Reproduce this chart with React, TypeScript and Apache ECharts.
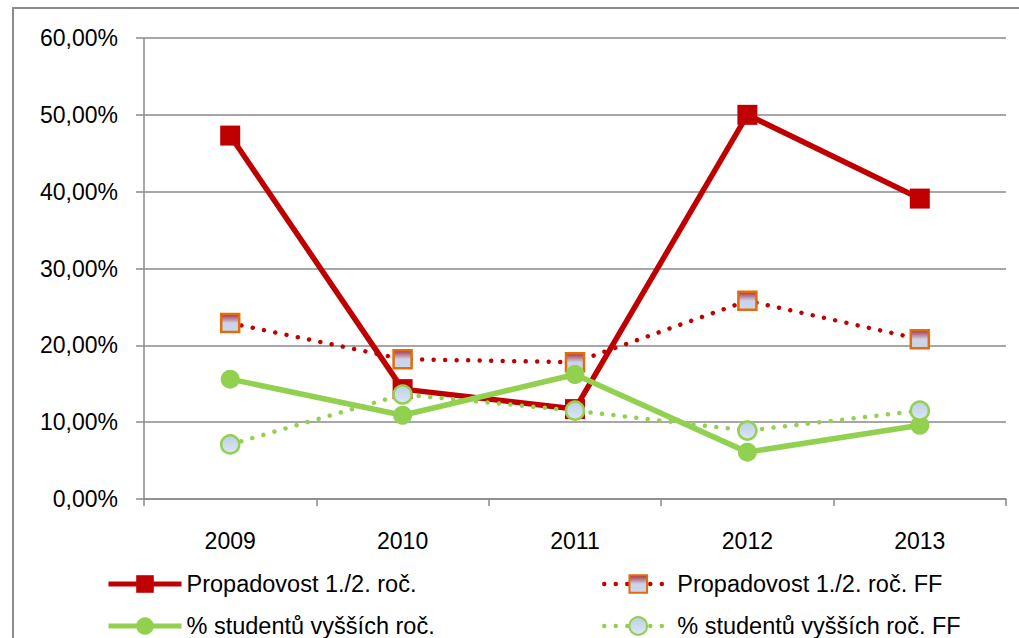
import React, { useEffect, useRef } from "react";
import * as echarts from "echarts";

const years = ["2009", "2010", "2011", "2012", "2013"];
const propadovost = [47.3, 14.3, 11.7, 50.0, 39.1];
const propadovostFF = [22.9, 18.2, 17.8, 25.8, 20.8];
const studenti = [15.6, 10.9, 16.2, 6.1, 9.6];
const studentiFF = [7.1, 13.6, 11.5, 8.9, 11.5];
const seriesNames = [
  "Propadovost 1./2. roč.",
  "Propadovost 1./2. roč. FF",
  "% studentů vyšších roč.",
  "% studentů vyšších roč. FF",
];

const FONT = "'Liberation Sans', Arial, sans-serif";
const RED = "#C00000";
const GREEN = "#92D050";
const GRID = "#8a8a8a";
const DOTS = [0.01, 11.5];

export default function App() {
  const ref = useRef<HTMLDivElement>(null);
  useEffect(() => {
    if (!ref.current) return;
    const chart = echarts.init(ref.current, undefined, { renderer: "svg" });
    const squareFill = new echarts.graphic.LinearGradient(0, 0, 0, 1, [
      { offset: 0, color: "#a52a45" },
      { offset: 0.5, color: "#cdd3e8" },
      { offset: 1, color: "#c6d8f0" },
    ]);
    const circleFill = new echarts.graphic.LinearGradient(0, 0, 0, 1, [
      { offset: 0, color: "#bccfe8" },
      { offset: 1, color: "#dde7f4" },
    ]);
    const legendCommon = {
      orient: "vertical",
      itemWidth: 73,
      itemHeight: 22,
      itemGap: 18,
      top: 572,
      height: 90,
      padding: 0,
      textStyle: { fontFamily: FONT, fontSize: 23.5, color: "#000" },
      selectedMode: false,
    };
    chart.setOption({
      animation: false,
      backgroundColor: "#fff",
      textStyle: { fontFamily: FONT },
      graphic: [
        {
          type: "rect",
          shape: { x: 13, y: 8, width: 1100, height: 700 },
          style: { fill: "none", stroke: "#8c8c8c", lineWidth: 2 },
          silent: true,
        },
      ],
      grid: { left: 144, right: 13, top: 38, bottom: 139, containLabel: false },
      legend: [
        {
          ...legendCommon,
          left: 106,
          data: [
            { name: seriesNames[0], lineStyle: { width: 5, color: RED } },
            { name: seriesNames[2], lineStyle: { width: 5, color: GREEN } },
          ],
        },
        {
          ...legendCommon,
          left: 602,
          itemWidth: 68,
          data: [
            { name: seriesNames[1], lineStyle: { width: 4.5, color: RED, type: DOTS, cap: "round" } },
            { name: seriesNames[3], lineStyle: { width: 4.5, color: GREEN, type: DOTS, cap: "round" } },
          ],
        },
      ],
      xAxis: {
        type: "category",
        data: years,
        boundaryGap: true,
        axisLine: { lineStyle: { color: GRID, width: 1.5 } },
        axisTick: { show: true, alignWithLabel: false, interval: 0, length: 7, lineStyle: { color: GRID, width: 1.5 } },
        axisLabel: { fontFamily: FONT, fontSize: 23, color: "#000", margin: 30 },
      },
      yAxis: {
        type: "value",
        min: 0,
        max: 60,
        interval: 10,
        axisLine: { show: true, lineStyle: { color: GRID, width: 1.5 } },
        axisTick: { show: true, length: 8, lineStyle: { color: GRID, width: 1.5 } },
        splitLine: { lineStyle: { color: GRID, width: 1.5 } },
        axisLabel: {
          fontFamily: FONT,
          fontSize: 23,
          color: "#000",
          margin: 26,
          formatter: (v: number) => v.toFixed(2).replace(".", ",") + "%",
        },
      },
      series: [
        {
          name: seriesNames[0],
          type: "line",
          data: propadovost,
          symbol: "rect",
          symbolSize: 20,
          lineStyle: { color: RED, width: 5.5 },
          itemStyle: { color: RED },
        },
        {
          name: seriesNames[1],
          type: "line",
          data: propadovostFF,
          symbol: "rect",
          symbolSize: 18,
          lineStyle: { color: RED, width: 4.5, type: DOTS, cap: "round" },
          itemStyle: { color: squareFill, borderColor: "#E46C0A", borderWidth: 2.5 },
        },
        {
          name: seriesNames[2],
          type: "line",
          data: studenti,
          symbol: "circle",
          symbolSize: 19,
          lineStyle: { color: GREEN, width: 5.5 },
          itemStyle: { color: GREEN },
        },
        {
          name: seriesNames[3],
          type: "line",
          data: studentiFF,
          symbol: "circle",
          symbolSize: 18,
          lineStyle: { color: GREEN, width: 4.5, type: DOTS, cap: "round" },
          itemStyle: { color: circleFill, borderColor: GREEN, borderWidth: 2.5 },
        },
      ],
    });
    return () => chart.dispose();
  }, []);
  return (
    <div
      ref={ref}
      style={{ position: "absolute", left: 0, top: 0, width: 1019, height: 638 }}
    />
  );
}
